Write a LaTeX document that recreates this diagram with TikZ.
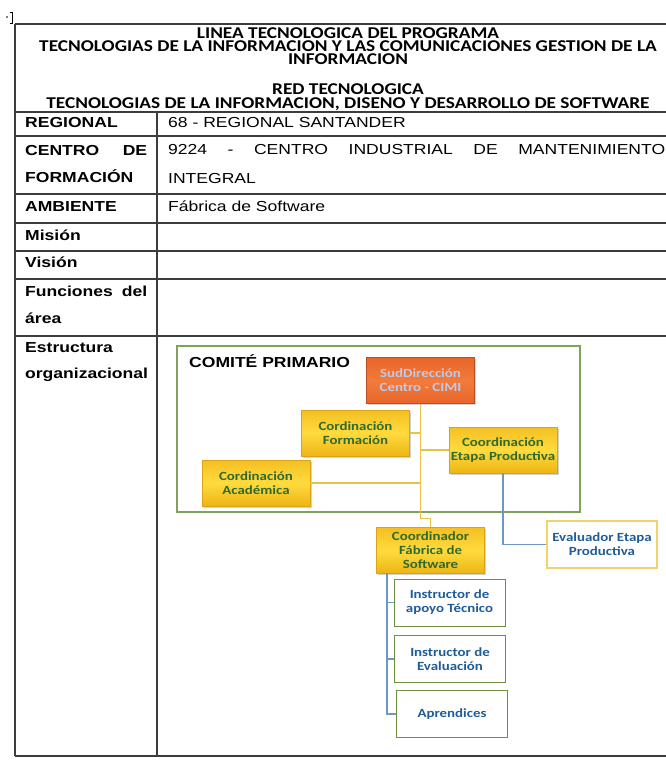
\documentclass[tikz,border=0pt]{standalone}
\usepackage{fontspec}
\setmainfont{Liberation Sans}[FakeStretch=1.21]
\newfontfamily\headfont{Carlito}[FakeStretch=1.17]
\newfontfamily\boxfont{Carlito}[FakeStretch=1.19]
\usepackage{tikz}
\usetikzlibrary{shadows}

\definecolor{gridgray}{HTML}{3C3C3C}
\definecolor{goldA}{HTML}{F4BF22}
\definecolor{goldB}{HTML}{EDB415}
\definecolor{goldC}{HTML}{FFDB3E}
\definecolor{goldedge}{HTML}{D9A514}
\definecolor{orangeA}{HTML}{E9642A}
\definecolor{orangeC}{HTML}{F27C3C}
\definecolor{subtext}{HTML}{B9CBEE}
\definecolor{txtgreen}{HTML}{2F6A2C}
\definecolor{txtblue}{HTML}{1F5C99}
\definecolor{boxgreen}{HTML}{6F8E40}
\definecolor{comgreen}{HTML}{80A25A}
\definecolor{evalyellow}{HTML}{F1D36C}
\definecolor{linegold}{HTML}{E9C24C}
\definecolor{lineblue}{HTML}{6E96C6}

\tikzset{
  rowline/.style={draw=gridgray, line width=1.2pt},
  lab/.style={anchor=base west, inner sep=0pt, font=\bfseries\fontsize{14.5}{17}\selectfont},
  val/.style={anchor=base west, inner sep=0pt, font=\fontsize{14.5}{17}\selectfont},
  head/.style={anchor=base, inner sep=0pt, text height=10.5pt, text depth=0pt,
    font=\headfont\bfseries\fontsize{16.5}{18}\selectfont},
  chartbox/.style={minimum width=108pt, minimum height=46pt, inner sep=1pt, align=center,
    font=\boxfont\bfseries\fontsize{12.5}{14}\selectfont},
  ybox/.style={chartbox, draw=goldedge, line width=0.6pt, top color=goldA, bottom color=goldB,
    middle color=goldC, text=txtgreen,
    drop shadow={shadow xshift=1.5pt, shadow yshift=-1.5pt, fill=black!35}},
  obox/.style={chartbox, draw=orangeA!80!black, line width=0.6pt, top color=orangeA, bottom color=orangeA,
    middle color=orangeC, text=subtext,
    drop shadow={shadow xshift=1.5pt, shadow yshift=-1.5pt, fill=black!35}},
  wbox/.style={chartbox, draw=boxgreen, line width=1pt, fill=white, text=txtblue, minimum width=111pt, minimum height=47pt},
  yline/.style={draw=linegold, line width=1.3pt},
  bline/.style={draw=lineblue, line width=1.3pt},
}

\begin{document}
\begin{tikzpicture}[x=1pt, y=-1pt]
	\useasboundingbox (0,0) rectangle (666,760);
	\fill (7,17) circle (0.8);
	\draw[line width=0.6pt] (10,12) -- (12,12) -- (12,23) -- (10,23);
	
	\foreach \yy in {24,112,136,194,223,251,279,336,756}
		\draw[rowline] (15,\yy) -- (700,\yy);
	\draw[rowline] (15,24) -- (15,756);
	\draw[rowline] (157,112) -- (157,756);
	
	\node[head] (h1) at (348,38) {LINEA TECNOLOGICA DEL PROGRAMA};
	\node[head] (h2) at (348,51.5) {TECNOLOGIAS DE LA INFORMACION Y LAS COMUNICACIONES GESTION DE LA};
	\node[head] (h3) at (348,64.5) {INFORMACION};
	\node[head] (h4) at (348,94.5) {RED TECNOLOGICA};
	\node[head] (h5) at (348,108.5) {TECNOLOGIAS DE LA INFORMACION, DISENO Y DESARROLLO DE SOFTWARE};
	
	\node[lab] (regional) at (25,127) {REGIONAL};
	\node[lab] (centro) at (25,155) {\hbox to 122pt{CENTRO\hfill DE}};
	\node[lab] (formacion) at (25,182.5) {FORMACIÓN};
	\node[lab] (ambiente) at (25,211) {AMBIENTE};
	\node[lab] (mision) at (25,240) {Misión};
	\node[lab] (vision) at (25,267.5) {Visión};
	\node[lab] (funciones) at (25,296.5) {\hbox to 122pt{Funciones\hfill del}};
	\node[lab] (area) at (25,323) {área};
	\node[lab] (estructura) at (25,352) {Estructura};
	\node[lab] (organizacional) at (25,378) {organizacional};
	
	\node[val] (regv) at (168,127) {68 - REGIONAL SANTANDER};
	\node[val] (cenv) at (168,154.5) {\hbox to 497pt{9224\hfill-\hfill CENTRO\hfill INDUSTRIAL\hfill DE\hfill MANTENIMIENTO}};
	\node[val] (intv) at (168,183) {INTEGRAL};
	\node[val] (ambv) at (168,211) {Fábrica de Software};
	
	\node[draw=comgreen, line width=1.5pt, minimum width=403pt, minimum height=166pt] (comite) at (378.5,429) {};
	\node[lab] (comitelbl) at (189,367) {COMITÉ PRIMARIO};
	
	\node[obox] (sub) at (420.5,380.5) {SudDirección\\Centro - CIMI};
	\node[ybox] (form) at (355.5,433) {Cordinación\\Formación};
	\node[ybox] (etapa) at (503,450) {Coordinación\\Etapa Productiva};
	\node[ybox] (acad) at (256,483) {Cordinación\\Académica};
	\node[ybox] (coord) at (430.5,550.5) {Coordinador\\Fábrica de\\Software};
	\node[wbox, draw=evalyellow, line width=1.5pt, minimum width=110pt] (eval) at (602,544.5) {Evaluador Etapa\\Productiva};
	\node[wbox] (inst1) at (449.5,602.5) {Instructor de\\apoyo Técnico};
	\node[wbox] (inst2) at (450,659) {Instructor de\\Evaluación};
	\node[wbox] (apr) at (452,714) {Aprendices};
	
	\draw[yline] (sub.south) -- ++(0,115) -| (coord.north);
	\draw[yline] (form.east) -- (form.east -| sub.south);
	\draw[yline] (etapa.west) -- (etapa.west -| sub.south);
	\draw[yline] (acad.east) -- (acad.east -| sub.south);
	
	\coordinate (ctrunk) at (387,573);
	\draw[bline] (etapa.south) |- (eval.west);
	\draw[bline] (ctrunk) |- (apr.west);
	\draw[bline] (inst1.west) -- (inst1.west -| ctrunk);
	\draw[bline] (inst2.west) -- (inst2.west -| ctrunk);
\end{tikzpicture}
\end{document}
